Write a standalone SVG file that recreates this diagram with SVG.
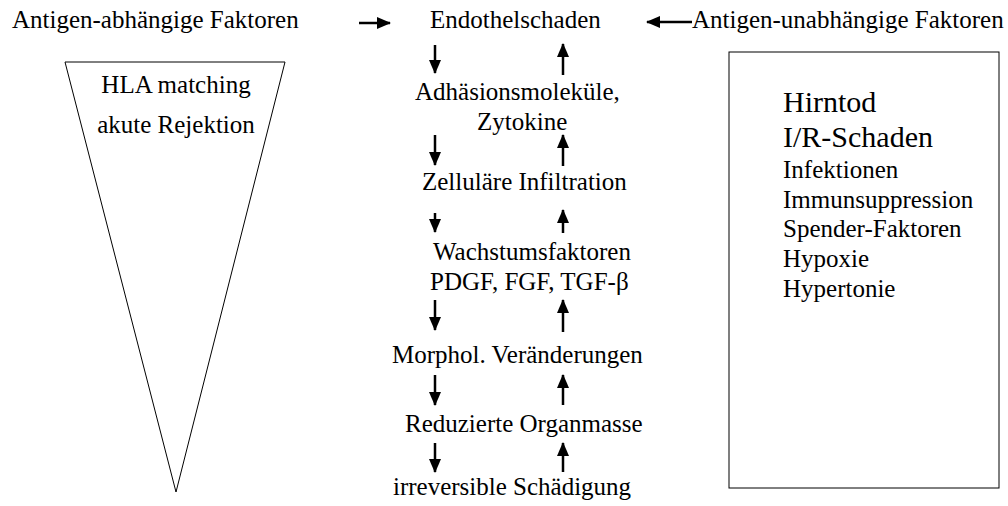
<svg xmlns="http://www.w3.org/2000/svg" width="1008" height="506" viewBox="0 0 1008 506">
<defs>
<style>
text{font-family:"Liberation Serif","Times New Roman",serif;font-size:25px;fill:#000}
.big{font-size:30px}
.mid{text-anchor:middle}
.arr{stroke:#000;stroke-width:2.5;fill:none}
.shape{stroke:#000;stroke-width:1;fill:none}
</style>
<marker id="ah" markerUnits="userSpaceOnUse" markerWidth="14" markerHeight="12" refX="13" refY="6" orient="auto">
<path d="M0,0 L14,6 L0,12 Z" fill="#000"/>
</marker>
</defs>
<rect width="1008" height="506" fill="#fff"/>
<g id="antigen-abhaengig"><text x="12" y="28">Antigen-abhängige Faktoren</text></g>
<g id="antigen-unabhaengig"><text x="692" y="28">Antigen-unabhängige Faktoren</text></g>
<g id="triangle">
<polygon class="shape" points="65,62 285,62 176,492"/>
<text class="mid" x="176" y="93">HLA matching</text>
<text class="mid" x="176" y="133">akute Rejektion</text>
</g>
<g id="box">
<rect class="shape" x="729" y="52" width="270" height="436" stroke="#333"/>
<text class="big" x="783" y="112">Hirntod</text>
<text class="big" x="783" y="147">I/R-Schaden</text>
<text x="783" y="178">Infektionen</text>
<text x="783" y="208">Immunsuppression</text>
<text x="783" y="237">Spender-Faktoren</text>
<text x="783" y="267">Hypoxie</text>
<text x="783" y="297">Hypertonie</text>
</g>
<g id="n1"><text x="430" y="28">Endothelschaden</text></g>
<g id="n2"><text x="415" y="100">Adhäsionsmoleküle,</text><text x="477" y="130">Zytokine</text></g>
<g id="n3"><text x="422" y="190">Zelluläre Infiltration</text></g>
<g id="n4"><text x="433" y="260">Wachstumsfaktoren</text><text x="430" y="290">PDGF, FGF, TGF-β</text></g>
<g id="n5"><text x="392" y="363">Morphol. Veränderungen</text></g>
<g id="n6"><text x="405" y="432">Reduzierte Organmasse</text></g>
<g id="n7"><text x="393" y="495">irreversible Schädigung</text></g>
<g id="connectors">
<line class="arr" x1="359" y1="23" x2="390" y2="23" marker-end="url(#ah)"/>
<line class="arr" x1="692" y1="22" x2="647" y2="22" marker-end="url(#ah)"/>
<line class="arr" x1="435" y1="45" x2="435" y2="73" marker-end="url(#ah)"/>
<line class="arr" x1="563" y1="75" x2="563" y2="44" marker-end="url(#ah)"/>
<line class="arr" x1="435" y1="135" x2="435" y2="165" marker-end="url(#ah)"/>
<line class="arr" x1="563" y1="166" x2="563" y2="135" marker-end="url(#ah)"/>
<line class="arr" x1="435" y1="213" x2="435" y2="232" marker-end="url(#ah)"/>
<line class="arr" x1="563" y1="233" x2="563" y2="210" marker-end="url(#ah)"/>
<line class="arr" x1="435" y1="300" x2="435" y2="330" marker-end="url(#ah)"/>
<line class="arr" x1="563" y1="332" x2="563" y2="300" marker-end="url(#ah)"/>
<line class="arr" x1="435" y1="375" x2="435" y2="405" marker-end="url(#ah)"/>
<line class="arr" x1="563" y1="405" x2="563" y2="375" marker-end="url(#ah)"/>
<line class="arr" x1="435" y1="443" x2="435" y2="472" marker-end="url(#ah)"/>
<line class="arr" x1="563" y1="472" x2="563" y2="443" marker-end="url(#ah)"/>
</g>
</svg>
